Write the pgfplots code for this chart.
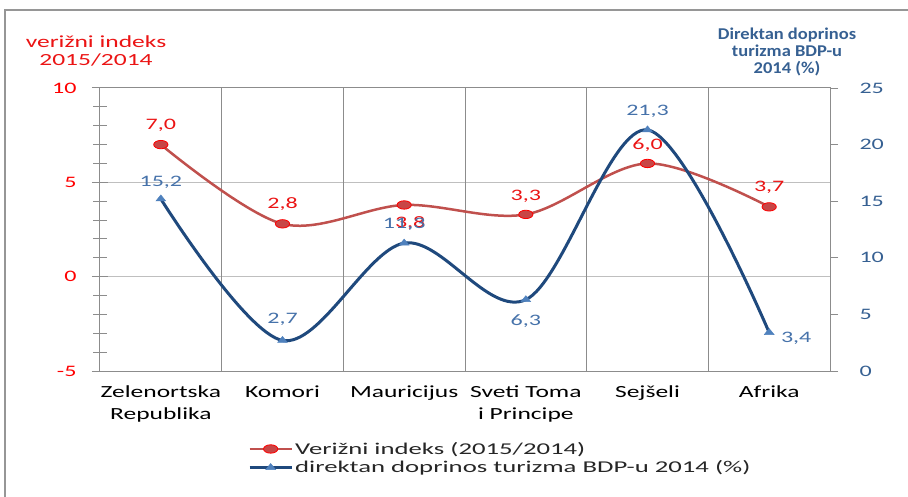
\documentclass[border=0pt]{standalone}
\usepackage{pgfplots}
\pgfplotsset{compat=1.18}
\usepackage{fontspec}
\setmainfont{Carlito}[FakeStretch=1.5]
\newfontfamily\legfont{Carlito}[FakeStretch=1.62]
\newfontfamily\rtitlefont{Carlito}[FakeStretch=1.12]
\definecolor{redline}{RGB}{192,80,77}
\definecolor{redmark}{RGB}{200,70,70}
\definecolor{redtext}{RGB}{235,20,20}
\definecolor{blueline}{RGB}{31,73,125}
\definecolor{bluemark}{RGB}{79,129,189}
\definecolor{bluetext}{RGB}{54,96,146}
\definecolor{bluelabel}{RGB}{70,114,170}
\definecolor{gridgray}{RGB}{191,191,191}
\definecolor{axgray}{RGB}{140,140,140}
\definecolor{framegray}{RGB}{150,150,150}
\newcommand\fs[2]{\fontsize{#1bp}{#2bp}\selectfont}
\begin{document}
\begin{tikzpicture}
\begin{axis}[
  at={(0bp,0bp)}, anchor=south west, scale only axis,
  width=730bp, height=283bp,
  xmin=-0.5, xmax=5.5, ymin=-5, ymax=10,
  axis line style={axgray, line width=1bp},
  ytick={-5,0,5,10}, minor y tick num=4, ytick pos=left,
  tick align=center, major tick length=16bp, minor tick length=13bp,
  tick style={axgray, line width=1bp},
  ymajorgrids, major grid style={gridgray, line width=1bp},
  xtick={0,...,5}, xtick pos=bottom,
  xticklabels={{Zelenortska\\Republika},Komori,Mauricijus,{Sveti Toma\\i Principe},Sejšeli,Afrika},
  x tick style={draw=none},
  extra x ticks={0.5,1.5,2.5,3.5,4.5},
  extra x tick labels={},
  extra x tick style={xmajorgrids=true, major grid style={axgray, line width=1bp}, tick style={draw=none}},
  /pgf/number format/assume math mode=true,
  yticklabel style={text=red, font=\fs{16}{19}, anchor=east, xshift=-12bp},
  xticklabel style={font=\fs{17}{22}, align=center, text=black, yshift=-3bp},
  clip=false,
]
\addplot[redline, line width=2.5bp, smooth, tension=0.55,
  mark=*, mark size=4.2bp, mark options={fill=redmark, draw=red, xscale=1.7, line width=0.8bp},
  nodes near coords, point meta=explicit symbolic,
  visualization depends on={\thisrow{dx}\as\dx},
  visualization depends on={\thisrow{dy}\as\dy},
  every node near coord/.append style={anchor=center, xshift=\dx bp, yshift=\dy bp, text=redtext, font=\fs{16}{19}, inner sep=0pt}]
  table[meta=lbl] {
x y lbl dx dy
0 7.0 7,0 0 19
1 2.8 2,8 0 20
2 3.8 3,8 6 -18
3 3.3 3,3 0 18
4 6.0 6,0 0 18
5 3.7 3,7 0 20
};
\end{axis}

\begin{axis}[
  at={(0bp,0bp)}, anchor=south west, scale only axis,
  width=730bp, height=283bp,
  xmin=-0.5, xmax=5.5, ymin=0, ymax=25,
  axis x line=none, axis y line*=right,
  axis line style={axgray, line width=1bp},
  ytick={0,5,...,25},
  tick align=outside, major tick length=8bp,
  tick style={axgray, line width=1bp},
  /pgf/number format/assume math mode=true,
  yticklabel style={text=bluetext, font=\fs{16}{19}, anchor=west, xshift=18bp},
  clip=false,
  legend style={draw=none, fill=none, at={(axis description cs:0.2027,-0.2438)}, anchor=north west,
     font=\legfont\fs{16.5}{19}, text=black!85, row sep=1bp, inner sep=0pt},
  legend cell align=left,
  legend image code/.code={\draw[mark repeat=2,mark phase=2,#1] plot coordinates {(0bp,0bp) (21bp,0bp) (42bp,0bp)};},
]
\addlegendimage{redline, line width=2.5bp, mark=*, mark size=4.2bp, mark options={fill=redmark, draw=red, xscale=1.7, line width=0.8bp}}
\addlegendentry{Verižni indeks (2015/2014)}
\addplot[blueline, line width=3bp, smooth, tension=0.55,
  mark=triangle*, mark size=4bp, mark options={fill=bluemark, draw=bluemark, xscale=1.4, line width=0.5bp},
  nodes near coords, point meta=explicit symbolic,
  visualization depends on={\thisrow{dx}\as\dx},
  visualization depends on={\thisrow{dy}\as\dy},
  every node near coord/.append style={anchor=center, xshift=\dx bp, yshift=\dy bp, text=bluelabel, font=\fs{16}{19}, inner sep=0pt}]
  table[meta=lbl] {
x y lbl dx dy
0 15.2 15,2 0 17
1 2.7 2,7 0 21
2 11.3 11,3 0 19
3 6.3 6,3 0 -21
4 21.3 21,3 0 19
5 3.4 3,4 27 -6
};
\addlegendentry{direktan doprinos turizma BDP-u 2014 (\%)}
\end{axis}
% frame and titles (origin = plot area lower-left corner)
\draw[line width=2.5bp, framegray] (-95bp,-126bp) -- (-95bp,361bp) -- (808bp,361bp);
\node[align=center, text=redtext, font=\fs{17}{18}, inner sep=0pt] at (-4bp,320bp) {verižni indeks\\2015/2014};
\node[align=center, text=bluetext, font=\rtitlefont\fs{16.5}{17}\bfseries, inner sep=0pt] at (687bp,319bp) {Direktan doprinos\\turizma BDP-u\\2014 (\%)};
\pgfresetboundingbox
\path[use as bounding box] (-100bp,-126bp) rectangle (808bp,371bp);
\end{tikzpicture}
\end{document}
